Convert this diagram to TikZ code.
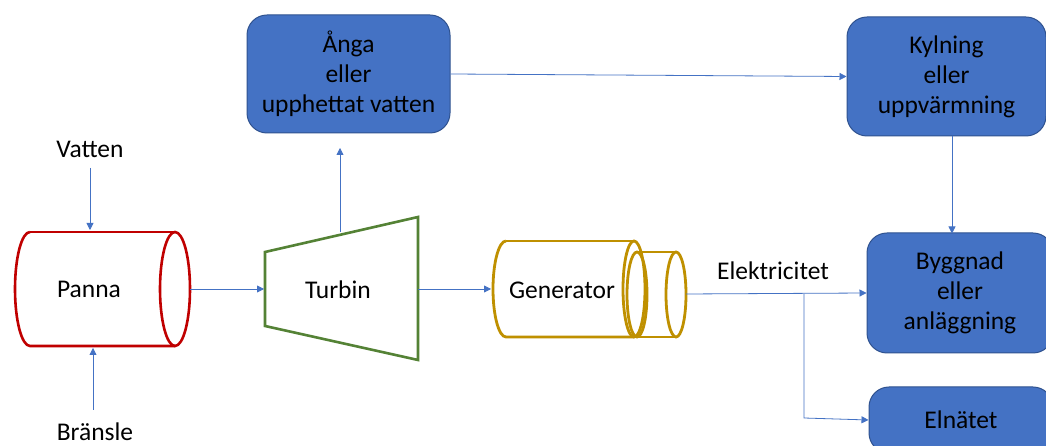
\documentclass[tikz,border=0pt]{standalone}
\usepackage{fontspec}
\setmainfont{Carlito}
\usetikzlibrary{arrows.meta}
\definecolor{boxblue}{HTML}{4472C4}
\definecolor{boxedge}{HTML}{2F528F}
\definecolor{pannared}{HTML}{C00000}
\definecolor{turbgreen}{HTML}{548235}
\definecolor{gengold}{HTML}{BF9000}
\definecolor{linkblue}{HTML}{4472C4}
\begin{document}
\begin{tikzpicture}[x=1pt,y=1pt,
  every node/.style={font=\fontsize{25.5}{30}\selectfont, text=black},
  bluebox/.style={draw=boxedge, fill=boxblue, line width=1pt, rounded corners=20pt, align=center, inner sep=0pt},
  link/.style={draw=linkblue, line width=0.8pt, -{Triangle[length=7pt,width=7pt]}},
  pannastyle/.style={draw=pannared, line width=2.6pt},
  turbstyle/.style={draw=turbgreen, line width=2.6pt, line join=miter},
  genstyle/.style={draw=gengold, line width=2.8pt}]
\clip (0,0) rectangle (1046,446);
\fill[white] (0,0) rectangle (1046,446);

% Blue boxes
\node[bluebox, minimum width=203pt, minimum height=118pt] (anga) at (348.5,372) {Ånga\\eller\\upphettat vatten};
\node[bluebox, minimum width=199pt, minimum height=119pt] (kyl) at (946.5,369.5) {Kylning\\eller\\uppvärmning};
\node[bluebox, minimum width=186pt, minimum height=120pt] (bygg) at (960,153) {Byggnad\\eller\\anläggning};
\node[bluebox, minimum width=184pt, minimum height=66pt] (elnat) at (961,26) {Elnätet};

% Panna cylinder
\draw[pannastyle] (30,214) arc[start angle=90,end angle=270,x radius=15,y radius=57] -- (175,100);
\draw[pannastyle] (30,214) -- (175,214);
\draw[pannastyle] (175,157) ellipse[x radius=15,y radius=57];
\node (panna) at (89,157) {Panna};
\coordinate (pannaE) at (190,157);
\coordinate (pannaN) at (90,216);
\coordinate (pannaS) at (93,98);

% Turbin trapezoid
\draw[turbstyle] (265,194) -- (418,229) -- (418,86) -- (265,120) -- cycle;
\node (turbin) at (338,156) {Turbin};
\coordinate (turbW) at (264,157);
\coordinate (turbE) at (418,157);
\coordinate (turbN) at (340,214);

% Generator
\draw[genstyle] (506,205) arc[start angle=90,end angle=270,x radius=13,y radius=48] -- (634,109);
\draw[genstyle] (506,205) -- (634,205);
\draw[genstyle] (634,157) ellipse[x radius=11,y radius=48];
\draw[genstyle] (637,194) -- (676,194);
\draw[genstyle] (637,109) -- (676,109);
\draw[genstyle] (637,151.5) ellipse[x radius=10,y radius=42.5];
\draw[genstyle] (676,151.5) ellipse[x radius=10,y radius=42.5];
\node (gen) at (562,156) {Generator};
\coordinate (genW) at (491,157);
\coordinate (genE) at (686,152);

% Free labels
\node (vatten) at (90,297) {Vatten};
\node (bransle) at (95,14) {Bränsle};
\node (elek) at (773,175) {Elektricitet};
\coordinate (vattenS) at (90,278);
\coordinate (bransleN) at (93,36);
\coordinate (split) at (804,152);
\coordinate (splitdown) at (804,28);
\path (kyl.south) ++(5.5,0) coordinate (kylS);
\path (bygg.north) ++(-8,-1) coordinate (byggN);

% Connectors
\draw[link] (vattenS) -- (pannaN);
\draw[link] (bransleN) -- (pannaS);
\draw[link] (pannaE) -- (turbW);
\draw[link] (turbE) -- (genW);
\draw[link] (turbN) -- (340,298);
\draw[link] (anga.east) -- (kyl.west);
\draw[link] (kylS) -- (byggN);
\draw[link] (genE) -- (bygg.west);
\draw[link] (split) -- (splitdown) -- (elnat.west);
\end{tikzpicture}
\end{document}
